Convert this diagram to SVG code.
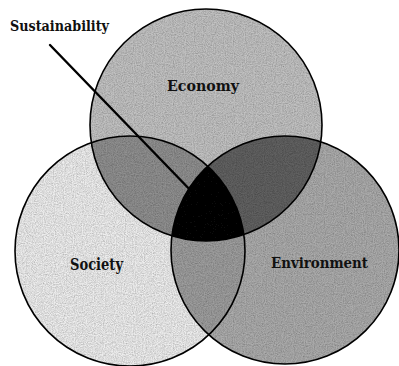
<svg xmlns="http://www.w3.org/2000/svg" width="399" height="366" viewBox="0 0 399 366">
<style>
.outline{fill:none;stroke:#000;stroke-width:1.6}
.lbl{font-family:"DejaVu Serif","Liberation Serif",serif;font-weight:bold;fill:#111}
</style>
<defs>
<clipPath id="cE"><circle cx="206" cy="125" r="116"/></clipPath>
<clipPath id="cS"><circle cx="130" cy="251" r="115"/></clipPath>
<clipPath id="cV"><circle cx="285" cy="250" r="114"/></clipPath>
<filter id="grain" x="0" y="0" width="100%" height="100%">
<feTurbulence type="fractalNoise" baseFrequency="0.9" numOctaves="2" seed="3" result="n"/>
<feColorMatrix in="n" type="luminanceToAlpha" result="a"/>
<feComponentTransfer in="a" result="a2"><feFuncA type="linear" slope="1.8" intercept="-0.6"/></feComponentTransfer>
<feFlood flood-color="#000" flood-opacity="0.55" result="blk"/>
<feComposite in="blk" in2="a2" operator="in" result="dots"/>
<feComposite in="dots" in2="SourceAlpha" operator="in" result="dots2"/>
<feMerge><feMergeNode in="SourceGraphic"/><feMergeNode in="dots2"/></feMerge>
</filter>
</defs>
<rect width="399" height="366" fill="#fff"/>
<g filter="url(#grain)">
<g id="economy-fill"><circle cx="206" cy="125" r="116" fill="#c2c2c2"/></g>
<g id="society-fill"><circle cx="130" cy="251" r="115" fill="#eeeeee"/></g>
<g id="environment-fill"><circle cx="285" cy="250" r="114" fill="#acacac"/></g>
<g id="overlaps">
<circle cx="130" cy="251" r="115" fill="#909090" clip-path="url(#cE)"/>
<circle cx="285" cy="250" r="114" fill="#626262" clip-path="url(#cE)"/>
<circle cx="285" cy="250" r="114" fill="#9e9e9e" clip-path="url(#cS)"/>
<g clip-path="url(#cE)"><circle cx="285" cy="250" r="114" fill="#0e0e0e" clip-path="url(#cS)"/></g>
</g>
</g>
<g id="economy"><circle class="outline" cx="206" cy="125" r="116"/><text class="lbl" x="167" y="91" font-size="15" textLength="72" lengthAdjust="spacingAndGlyphs">Economy</text></g>
<g id="society"><circle class="outline" cx="130" cy="251" r="115"/><text class="lbl" x="70" y="270" font-size="16" textLength="53" lengthAdjust="spacingAndGlyphs">Society</text></g>
<g id="environment"><circle class="outline" cx="285" cy="250" r="114"/><text class="lbl" x="271" y="268" font-size="15" textLength="97" lengthAdjust="spacingAndGlyphs">Environment</text></g>
<g id="sustainability"><text class="lbl" x="10" y="31" font-size="15" textLength="99" lengthAdjust="spacingAndGlyphs">Sustainability</text></g>
<g id="connectors"><line x1="50" y1="45" x2="196" y2="196" stroke="#000" stroke-width="2.4" stroke-linecap="round"/></g>
</svg>
